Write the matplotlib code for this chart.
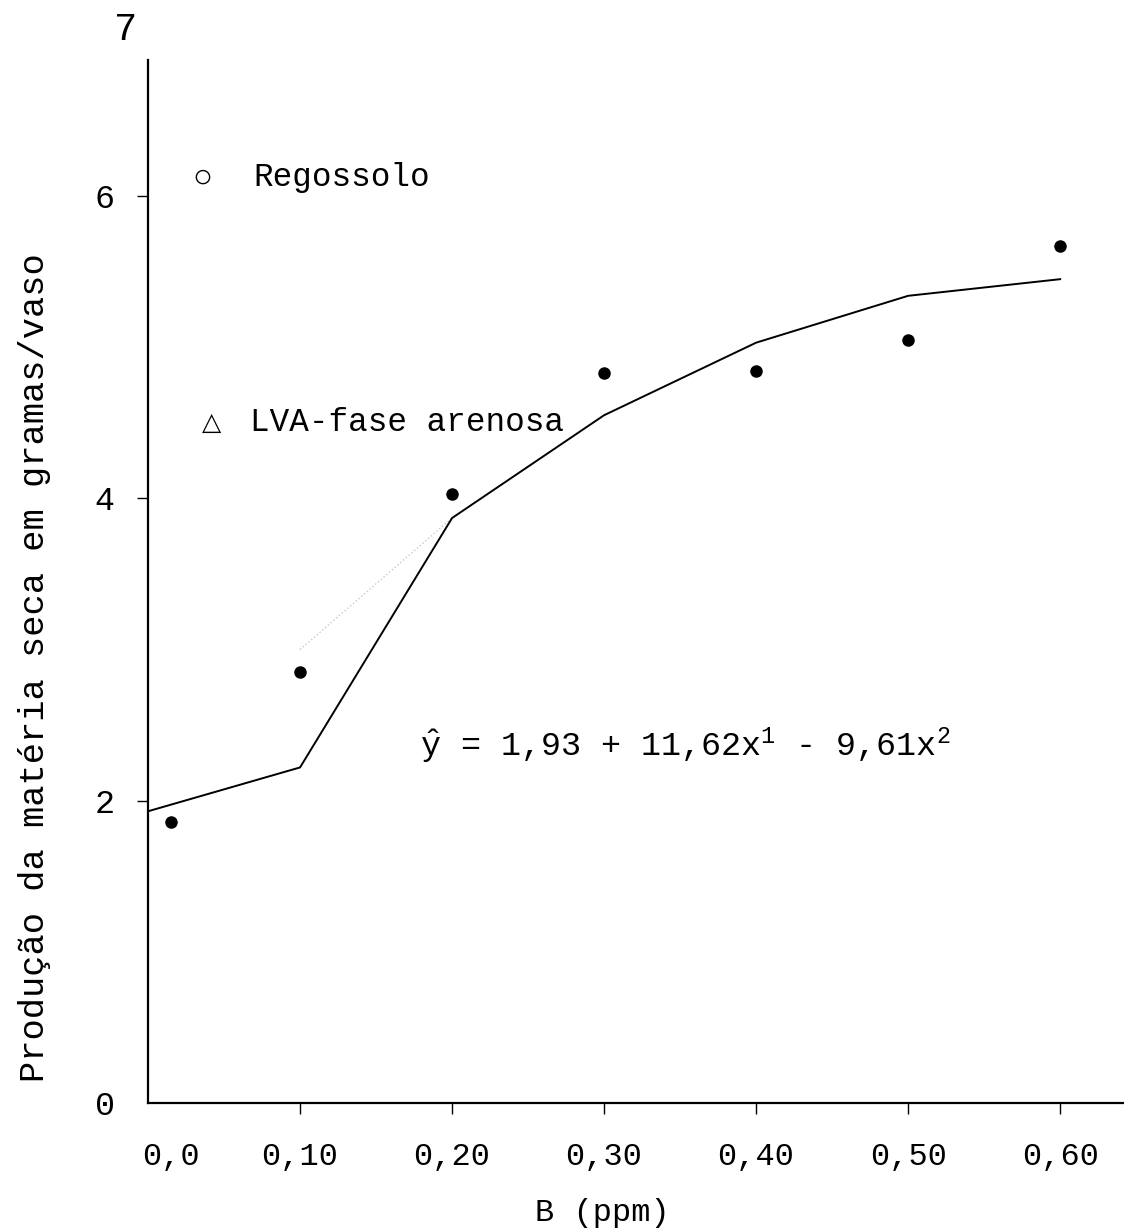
#External imports
import matplotlib
matplotlib.use('Agg')
import matplotlib.pyplot as plt

#Constants
FONT = 'Liberation Mono'

b_ppm = [0.015, 0.10, 0.20, 0.30, 0.40, 0.50, 0.60]
producao = [1.86, 2.85, 4.03, 4.83, 4.84, 5.05, 5.67]

# hand drawn fitted curve (as drawn on the sheet)
fit_x = [0.0, 0.10, 0.20, 0.30, 0.40, 0.50, 0.60]
fit_y = [1.93, 2.22, 3.87, 4.55, 5.03, 5.34, 5.45]

# faint pencil segment between 0,10 and 0,20
faint_x = [0.10, 0.20]
faint_y = [3.00, 3.87]

x_ticks = [0.015, 0.10, 0.20, 0.30, 0.40, 0.50, 0.60]
x_labels = ['0,0', '0,10', '0,20', '0,30', '0,40', '0,50', '0,60']
y_ticks = [0, 2, 4, 6]
y_labels = ['0', '2', '4', '6']

plt.rcParams['font.family'] = [FONT, 'DejaVu Sans']
plt.rcParams['mathtext.fontset'] = 'custom'
plt.rcParams['mathtext.rm'] = FONT
plt.rcParams['mathtext.it'] = FONT

fig = plt.figure(figsize=(11.24, 12.32), dpi=100)
ax = fig.add_axes([0.1317, 0.1047, 0.8683, 0.8466])

ax.plot(faint_x, faint_y, color='#c8c8c8', lw=1.0, linestyle=':')
ax.plot(fit_x, fit_y, color='black', lw=1.4)
ax.plot(b_ppm, producao, 'o', color='black', markersize=8)

ax.set_xlim(0, 0.642)
ax.set_ylim(0, 6.9)

for side in ['top', 'right']:
    ax.spines[side].set_visible(False)
ax.spines['left'].set_linewidth(1.6)
ax.spines['bottom'].set_linewidth(1.6)

ax.set_xticks(x_ticks)
ax.set_xticklabels(x_labels, fontsize=23)
ax.set_yticks(y_ticks)
ax.set_yticklabels(y_labels, fontsize=24)
ax.tick_params(axis='x', direction='out', length=8, width=1.0, pad=20)
ax.tick_params(axis='y', direction='out', length=8, width=1.0, pad=16)
ax.xaxis.get_major_ticks()[0].tick1line.set_visible(False)
ax.yaxis.get_major_ticks()[0].tick1line.set_visible(False)

# the "7" written above the axis
ax.text(-0.015, 7.1, '7', fontsize=28, ha='center', va='center', clip_on=False)

# legend as typed on the sheet
ax.text(0.036, 6.12, '○', fontsize=24, ha='center', va='center')
ax.text(0.069, 6.12, 'Regossolo', fontsize=23.5, va='center')
ax.text(0.042, 4.5, '△', fontsize=18, ha='center', va='center')
ax.text(0.067, 4.5, 'LVA-fase arenosa', fontsize=23.5, va='center')

ax.text(0.179, 2.36, r'$\hat{\mathrm{y}}$ = 1,93 + 11,62x$^\mathrm{1}$ - 9,61x$^\mathrm{2}$',
        fontsize=24, va='center')

fig.text(35 / 1124, 1 - 668 / 1232, 'Produção da matéria seca em gramas/vaso',
         rotation=90, fontsize=25.5, ha='center', va='center')
fig.text(602 / 1124, 1 - 1213 / 1232, 'B (ppm)', fontsize=23, ha='center', va='center')

fig.savefig('out.png', dpi=100, facecolor='white')
